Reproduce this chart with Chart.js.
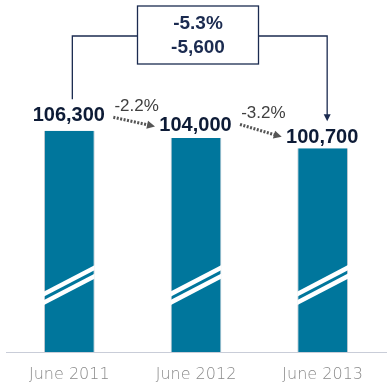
<!DOCTYPE html>
<html>
<head>
<meta charset="utf-8">
<script src="https://cdn.jsdelivr.net/npm/chart.js@4/dist/chart.umd.min.js"></script>
<style>
  html, body { margin: 0; padding: 0; background: #ffffff; }
  #wrap { width: 392px; height: 387px; }
</style>
</head>
<body>
<div id="wrap"><canvas id="c" width="392" height="387"></canvas></div>
<script>
// ---- data ----
const categories = ['June 2011', 'June 2012', 'June 2013'];
const headcount = [106300, 104000, 100700];
const valueLabels = ['106,300', '104,000', '100,700'];
const stepChangeLabels = ['-2.2%', '-3.2%'];
const totalChangeLabels = ['-5.3%', '-5,600'];
const axisMin = 35900;
const axisMax = 147900;

const NAVY = '#1b2b50';
const BAR = '#00769c';

function arrowHead(ctx, x1, y1, x2, y2, len, wid) {
  const a = Math.atan2(y2 - y1, x2 - x1);
  ctx.beginPath();
  ctx.moveTo(x2, y2);
  ctx.lineTo(x2 - len * Math.cos(a) + wid * Math.sin(a), y2 - len * Math.sin(a) - wid * Math.cos(a));
  ctx.lineTo(x2 - len * Math.cos(a) - wid * Math.sin(a), y2 - len * Math.sin(a) + wid * Math.cos(a));
  ctx.closePath();
  ctx.fill();
}

const annotations = {
  id: 'annotations',
  afterDatasetsDraw(chart) {
    const ctx = chart.ctx;
    const bars = chart.getDatasetMeta(0).data;
    const bottom = chart.chartArea.bottom;
    ctx.save();

    // axis-break marks
    bars.forEach(b => {
      const w = b.width, left = b.x - w / 2, right = b.x + w / 2;
      ctx.save();
      ctx.beginPath();
      ctx.rect(left, b.y, w, bottom - b.y);
      ctx.clip();
      ctx.strokeStyle = '#ffffff';
      ctx.lineWidth = 4.5;
      [58, 49.5].forEach(off => {
        const yl = bottom - off;
        const yr = yl - 0.52 * w;
        ctx.beginPath();
        ctx.moveTo(left - 4, yl + 0.52 * 4);
        ctx.lineTo(right + 4, yr - 0.52 * 4);
        ctx.stroke();
      });
      ctx.restore();
    });

    // value labels
    const labelOffsets = [15.4, 12.5, 11.3];
    ctx.fillStyle = '#0d1b36';
    ctx.font = 'bold 20px "Liberation Sans", Arial, sans-serif';
    ctx.textAlign = 'center';
    ctx.textBaseline = 'middle';
    bars.forEach((b, i) => {
      ctx.fillText(valueLabels[i], b.x - 0.5, b.y - labelOffsets[i]);
    });

    // step change arrows and labels
    for (let i = 0; i < bars.length - 1; i++) {
      const a = bars[i], c = bars[i + 1];
      const x1 = a.x + 44, y1 = a.y - 13.5;
      const x2 = c.x - 41, y2 = c.y - 11.5;
      ctx.strokeStyle = '#555555';
      ctx.fillStyle = '#555555';
      ctx.lineWidth = 3;
      ctx.setLineDash([2, 1.5]);
      const ang = Math.atan2(y2 - y1, x2 - x1);
      ctx.beginPath();
      ctx.moveTo(x1, y1);
      ctx.lineTo(x2 - 6 * Math.cos(ang), y2 - 6 * Math.sin(ang));
      ctx.stroke();
      ctx.setLineDash([]);
      arrowHead(ctx, x1, y1, x2, y2, 8, 4);

      ctx.fillStyle = '#404040';
      ctx.font = '17px "Liberation Sans", Arial, sans-serif';
      ctx.fillText(stepChangeLabels[i], (a.x + c.x) / 2 + 4, a.y - 24.5);
    }

    // total change bracket
    const b0 = bars[0], b1 = bars[1], b2 = bars[bars.length - 1];
    const boxW = 121, boxTop = 6, boxH = 58;
    const boxL = b1.x + 2 - boxW / 2, boxR = boxL + boxW;
    const midY = boxTop + boxH / 2 + 1;
    const xs = b0.x + 3, xe = b2.x + 4.5;
    ctx.strokeStyle = NAVY;
    ctx.fillStyle = NAVY;
    ctx.lineWidth = 1.3;
    ctx.beginPath();
    ctx.moveTo(xs, b0.y - 31.5);
    ctx.lineTo(xs, midY);
    ctx.lineTo(boxL, midY);
    ctx.moveTo(boxR, midY);
    ctx.lineTo(xe, midY);
    ctx.lineTo(xe, b2.y - 33);
    ctx.stroke();
    arrowHead(ctx, xe, midY, xe, b2.y - 27, 7, 3.5);
    ctx.strokeRect(boxL, boxTop, boxW, boxH);

    ctx.fillStyle = NAVY;
    ctx.font = 'bold 19px "Liberation Sans", Arial, sans-serif';
    ctx.fillText(totalChangeLabels[0], (boxL + boxR) / 2, boxTop + 17.5);
    ctx.fillText(totalChangeLabels[1], (boxL + boxR) / 2, boxTop + 41.5);

    ctx.restore();
  }
};

new Chart(document.getElementById('c'), {
  type: 'bar',
  data: {
    labels: categories,
    datasets: [{
      data: headcount,
      backgroundColor: BAR,
      borderColor: '#b9c6cf',
      borderWidth: { left: 1, right: 1, top: 0, bottom: 0 },
      borderSkipped: false,
      categoryPercentage: 1,
      barPercentage: 0.4
    }]
  },
  options: {
    responsive: false,
    animation: false,
    layout: { padding: { left: 6, right: 6, top: 0, bottom: 0 } },
    plugins: { legend: { display: false }, tooltip: { enabled: false } },
    scales: {
      x: {
        grid: { display: false, drawTicks: false },
        border: { display: true, color: '#c9cdd8', width: 1 },
        ticks: {
          padding: 13,
          color: '#8a8a8a',
          font: { family: '"DejaVu Sans", sans-serif', size: 16, weight: '200' }
        },
        afterFit(scale) { scale.height = 35; }
      },
      y: {
        display: false,
        min: axisMin,
        max: axisMax
      }
    }
  },
  plugins: [annotations]
});
</script>
</body>
</html>
